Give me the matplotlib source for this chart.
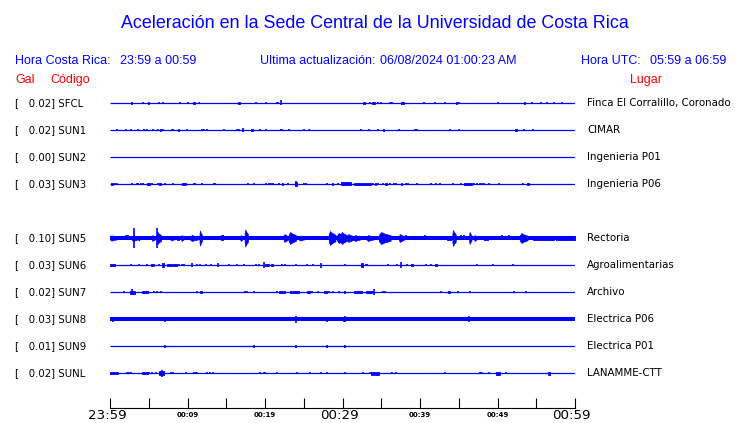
import matplotlib
matplotlib.use("Agg")
import matplotlib.pyplot as plt
from matplotlib.transforms import blended_transform_factory

# ---------------- data ----------------
stations = ["SFCL", "SUN1", "SUN2", "SUN3", "SUN5", "SUN6", "SUN7", "SUN8", "SUN9", "SUNL"]
gal = [0.02, 0.02, 0.00, 0.03, 0.10, 0.03, 0.02, 0.03, 0.01, 0.02]
places = ["Finca El Corralillo, Coronado", "CIMAR", "Ingenieria P01", "Ingenieria P06",
          "Rectoria", "Agroalimentarias", "Archivo", "Electrica P06", "Electrica P01",
          "LANAMME-CTT"]
rows = [0, 1, 2, 3, 5, 6, 7, 8, 9, 10]
# continuous background amplitude of each trace (relative units)
base_amp = [0, 0, 0, 0, 1.7, 0, 0, 1.6, 0, 0]

# events: (start minute, end minute, half amplitude) - minutes after 23:59
sfcl_ev = [(2.68, 2.78, 1.0), (4.27, 4.27, 1.3), (4.95, 5.05, 1.0), (6.37, 6.37, 1.3),
           (6.89, 6.89, 1.3), (9.09, 9.09, 1.3), (10.12, 10.12, 0.8), (10.72, 10.92, 1.3),
           (11.42, 11.42, 1.0), (16.55, 16.72, 1.3), (18.79, 18.79, 0.7), (20.13, 20.13, 0.7),
           (21.50, 21.50, 1.3), (21.72, 21.72, 1.0), (22.02, 22.02, 2.5), (32.68, 32.88, 1.0),
           (33.49, 33.49, 1.3), (33.75, 34.18, 1.3), (34.62, 34.62, 1.3), (34.91, 34.91, 1.3),
           (36.12, 36.12, 1.3), (36.43, 36.43, 1.0), (37.54, 37.93, 1.3), (40.51, 40.51, 0.7),
           (41.93, 41.93, 1.0), (43.23, 43.23, 1.3), (44.62, 44.78, 1.3), (45.00, 45.00, 1.0),
           (50.08, 50.08, 0.7), (53.42, 53.56, 1.3), (54.48, 54.48, 1.3), (55.60, 55.60, 1.3),
           (56.34, 56.34, 1.0), (57.32, 57.32, 1.3), (58.36, 58.36, 1.3)]

sun1_ev = [(0.87, 0.87, 1.3), (2.03, 2.03, 1.3), (2.68, 2.68, 0.8), (3.66, 3.66, 1.3),
           (4.44, 4.44, 1.3), (4.74, 4.74, 1.3), (5.52, 5.52, 1.3), (6.16, 6.16, 0.8),
           (6.40, 6.55, 1.3), (6.89, 6.89, 1.3), (7.97, 7.97, 1.3), (8.19, 8.19, 1.3),
           (8.72, 8.86, 1.3), (9.91, 9.91, 1.3), (11.85, 11.85, 1.3), (12.07, 12.07, 1.3),
           (12.58, 12.58, 1.3), (14.65, 14.65, 0.7), (16.38, 16.38, 1.3), (16.59, 16.59, 1.3),
           (17.11, 17.11, 2.0), (18.25, 18.40, 1.3), (19.31, 19.31, 1.3), (20.13, 20.13, 0.7),
           (22.02, 22.02, 1.3), (22.24, 22.24, 1.3), (23.06, 23.06, 1.3), (25.04, 25.04, 1.3),
           (25.64, 25.64, 1.3), (32.42, 32.42, 0.7), (33.45, 33.45, 0.7), (34.57, 34.57, 1.3),
           (35.22, 35.38, 1.3), (37.28, 37.28, 0.8), (39.31, 39.31, 1.3), (39.61, 39.61, 1.3),
           (43.87, 43.87, 1.3), (45.04, 45.04, 1.3), (52.25, 52.50, 1.3), (53.44, 53.44, 1.3),
           (54.61, 54.61, 1.3)]

sun2_ev = []

sun3_ev = [(0.13, 0.43, 1.3), (0.65, 0.65, 1.3), (0.95, 0.95, 1.3), (2.80, 2.80, 1.3),
           (3.45, 3.45, 1.3), (3.66, 3.66, 1.0), (3.96, 3.96, 1.0), (4.22, 4.22, 1.3),
           (4.83, 5.12, 1.1), (5.39, 5.39, 1.3), (6.16, 6.16, 0.8), (6.37, 6.57, 1.3),
           (7.11, 7.11, 1.0), (8.10, 8.10, 1.3), (9.35, 9.83, 1.3), (10.78, 10.78, 1.3),
           (10.99, 10.99, 1.3), (11.85, 11.85, 1.0), (13.36, 13.36, 1.3), (13.58, 13.58, 1.3),
           (17.76, 17.76, 1.3), (18.53, 18.53, 1.0), (20.17, 20.17, 1.3), (20.47, 20.47, 1.3),
           (20.73, 20.73, 1.3), (21.04, 21.04, 1.3), (21.85, 21.85, 0.8), (22.18, 22.38, 1.3),
           (22.97, 22.97, 1.3), (24.01, 24.01, 2.6), (23.90, 24.12, 1.7), (25.04, 25.04, 1.3),
           (25.34, 25.34, 1.0), (28.02, 28.02, 1.3), (28.62, 28.80, 1.3), (29.39, 29.39, 1.3),
           (29.87, 31.12, 1.5), (31.46, 32.24, 1.3), (32.42, 32.76, 1.3), (32.88, 33.70, 1.4),
           (33.92, 33.92, 1.3), (34.20, 34.32, 1.3), (34.62, 34.62, 1.3), (35.26, 35.26, 1.0),
           (35.52, 35.70, 1.3), (36.12, 36.12, 1.3), (36.64, 36.64, 1.0), (36.94, 36.94, 1.0),
           (37.54, 37.66, 1.3), (38.23, 38.23, 1.3), (38.45, 38.45, 1.3), (39.65, 39.65, 1.3),
           (41.47, 41.47, 1.3), (42.11, 42.11, 1.0), (42.58, 42.58, 1.3), (44.31, 44.31, 1.3),
           (45.35, 45.35, 1.3), (45.69, 46.71, 1.4), (46.98, 46.98, 1.0), (47.32, 47.32, 1.0),
           (47.75, 47.75, 1.3), (48.06, 48.06, 1.3), (48.28, 48.28, 1.3), (48.84, 48.84, 1.0),
           (50.21, 50.21, 1.3), (53.32, 53.32, 1.0), (53.82, 54.02, 1.3)]

sun5_ev = [(0.00, 0.95, 2.7), (2.03, 2.03, 2.5), (2.28, 2.28, 2.5), (2.80, 3.66, 3.0),
           (3.14, 3.14, 10.0), (3.66, 3.88, 2.5), (5.39, 5.82, 3.0), (6.03, 6.59, 6.0),
           (6.12, 6.12, 10.0), (7.76, 8.40, 2.5), (8.62, 8.84, 2.0), (9.18, 9.53, 3.0),
           (10.34, 11.42, 3.0), (11.55, 11.85, 7.5), (14.00, 14.00, 2.0), (14.35, 14.52, 2.5),
           (14.87, 14.87, 2.0), (15.95, 15.95, 2.0), (16.81, 17.11, 3.0), (17.37, 17.80, 8.5),
           (20.69, 20.69, 2.0), (21.55, 21.55, 2.0), (22.41, 22.97, 4.0), (23.06, 24.01, 6.0),
           (24.35, 25.22, 2.5), (26.42, 26.42, 2.0), (28.23, 29.09, 7.0), (29.30, 30.39, 5.0),
           (29.74, 30.60, 6.0), (30.60, 31.46, 4.0), (31.46, 32.33, 3.0), (33.10, 34.05, 3.0),
           (34.70, 36.21, 6.0), (37.28, 37.93, 4.0), (38.15, 38.15, 2.5), (40.65, 40.65, 2.5),
           (43.53, 43.97, 2.0), (44.18, 44.61, 8.0), (45.26, 45.26, 2.5), (45.69, 45.69, 2.5),
           (46.34, 46.64, 6.0), (46.98, 47.33, 3.0), (48.28, 48.71, 2.3), (50.64, 50.64, 2.5),
           (51.51, 51.51, 2.5), (52.89, 53.88, 5.0), (54.52, 57.33, 2.2), (57.54, 60.00, 2.2)]

sun6_ev = [(0.00, 0.65, 1.5), (2.67, 2.67, 1.3), (3.79, 3.79, 1.0), (4.83, 4.83, 1.0),
           (5.30, 5.69, 1.3), (6.37, 6.37, 1.0), (6.77, 6.98, 2.0), (7.37, 7.97, 1.3),
           (8.19, 8.62, 1.3), (8.92, 8.92, 1.3), (9.35, 9.35, 1.3), (9.61, 9.61, 1.3),
           (10.56, 10.56, 2.0), (11.20, 11.20, 1.0), (11.55, 11.55, 1.3), (12.37, 12.37, 1.3),
           (13.02, 13.02, 1.3), (13.88, 13.88, 2.0), (15.39, 15.39, 1.3), (16.38, 16.38, 1.3),
           (17.24, 17.24, 1.3), (18.83, 18.83, 1.3), (19.27, 19.27, 1.3), (19.91, 19.91, 3.0),
           (20.04, 20.47, 1.3), (20.80, 21.02, 1.3), (22.20, 22.20, 1.0), (22.63, 22.63, 1.0),
           (24.01, 24.01, 1.0), (25.47, 25.47, 1.0), (26.20, 26.20, 1.0), (27.28, 27.28, 2.5),
           (30.28, 30.28, 1.3), (32.33, 32.67, 2.0), (32.97, 32.97, 1.3), (33.19, 33.19, 1.3),
           (35.90, 35.90, 1.3), (37.06, 37.06, 1.0), (37.50, 37.50, 3.0), (38.36, 38.36, 1.0),
           (38.90, 39.10, 1.3), (40.73, 40.73, 1.0), (41.38, 41.38, 1.0), (41.90, 42.24, 1.3),
           (47.37, 47.37, 1.3), (49.40, 49.40, 1.3), (52.00, 52.00, 0.7)]

sun7_ev = [(1.81, 1.81, 0.7), (2.59, 3.23, 1.5), (2.80, 2.80, 3.0), (4.09, 4.87, 1.3),
           (5.69, 5.69, 1.0), (6.12, 6.12, 0.8), (6.55, 6.55, 0.8), (11.20, 11.20, 1.0),
           (11.64, 11.85, 1.3), (17.37, 17.37, 1.0), (17.67, 17.67, 0.7), (18.53, 18.53, 0.7),
           (21.55, 21.55, 0.7), (21.77, 22.63, 1.3), (23.19, 24.44, 1.3), (25.43, 25.86, 1.3),
           (26.08, 26.08, 1.0), (26.85, 26.85, 1.3), (27.58, 28.01, 1.3), (28.23, 28.23, 1.0),
           (28.79, 28.79, 1.3), (29.52, 29.52, 0.7), (30.17, 30.30, 1.3), (31.46, 32.53, 1.3),
           (32.97, 33.84, 1.3), (34.05, 34.05, 3.0), (35.25, 35.25, 1.0), (35.47, 35.47, 1.3),
           (42.67, 42.67, 0.8), (43.65, 43.85, 1.3), (44.91, 44.91, 1.3), (46.46, 46.46, 0.8),
           (52.16, 52.16, 1.0), (53.71, 53.71, 0.7)]

sun8_ev = [(0.43, 0.43, 2.5), (6.37, 6.37, 2.0), (7.11, 7.11, 2.5), (24.05, 24.05, 3.5),
           (28.02, 28.02, 2.5), (30.30, 30.30, 3.0), (30.17, 30.17, 2.5), (31.68, 31.68, 2.0),
           (33.06, 33.06, 2.0), (39.74, 39.74, 2.0), (46.34, 46.34, 3.0)]

sun9_ev = [(7.11, 7.11, 1.5), (18.53, 18.53, 1.5), (24.05, 24.05, 1.5), (28.02, 28.02, 1.5),
           (30.30, 30.30, 1.5)]

sunl_ev = [(0.00, 0.99, 1.3), (2.15, 2.15, 1.3), (2.46, 2.46, 1.3), (2.67, 2.67, 1.3),
           (4.09, 4.87, 1.3), (5.09, 5.09, 1.3), (5.48, 5.48, 1.3), (5.91, 5.91, 0.8),
           (6.37, 7.02, 1.8), (6.77, 6.77, 3.5), (7.84, 7.84, 1.3), (8.10, 8.10, 1.3),
           (9.83, 9.83, 1.3), (10.78, 10.78, 1.3), (10.99, 10.99, 1.3), (11.29, 11.29, 1.3),
           (12.58, 12.58, 1.3), (12.84, 12.84, 1.3), (13.23, 13.23, 1.3), (19.31, 19.31, 0.8),
           (19.83, 19.83, 1.0), (20.04, 20.04, 0.8), (21.55, 21.55, 1.3), (24.14, 24.14, 1.3),
           (25.86, 25.86, 0.8), (27.24, 27.24, 0.8), (28.02, 28.02, 1.3), (30.30, 30.30, 1.0),
           (32.63, 32.63, 0.7), (33.49, 33.49, 1.3), (33.62, 34.05, 1.5), (34.20, 34.70, 1.5),
           (36.34, 36.34, 1.3), (36.85, 36.85, 1.0), (43.23, 43.23, 0.7), (47.75, 47.75, 1.0),
           (48.06, 48.06, 1.3), (48.84, 48.84, 1.3), (49.78, 50.30, 1.5), (51.08, 51.08, 1.3),
           (56.46, 56.80, 1.5)]

events = [sfcl_ev, sun1_ev, sun2_ev, sun3_ev, sun5_ev, sun6_ev, sun7_ev, sun8_ev, sun9_ev, sunl_ev]

time_ticks = list(range(0, 61, 5))
big_labels = {0: "23:59", 30: "00:29", 60: "00:59"}
small_labels = {10: "00:09", 20: "00:19", 40: "00:39", 50: "00:49"}

title = "Aceleración en la Sede Central de la Universidad de Costa Rica"
update = "06/08/2024 01:00:23 AM"

# ---------------- figure ----------------
W, H = 740, 423
fig = plt.figure(figsize=(W / 100, H / 100), dpi=100)
fig.patch.set_facecolor("white")

BLUE = "#0000ff"
RED = "#ff0000"
ROWPX = 27.0
AMP = 1.0 / ROWPX  # amplitude units -> rows

def fx(px):
    return px / W

def fy(py):
    return 1 - py / H

x0, x1 = 110, 575
top_px, bot_px = 103 - ROWPX / 2, 373 + ROWPX / 2
ax = fig.add_axes([fx(x0), fy(bot_px), (x1 - x0) / W, (bot_px - top_px) / H])
ax.set_xlim(0, 60)
ax.set_ylim(10.5, -0.5)
ax.axis("off")

for r, base, ev in zip(rows, base_amp, events):
    ax.plot([0, 60], [r, r], color=BLUE, lw=0.9, solid_capstyle="butt")
    if base > 0:
        ax.fill_between([0, 60], r - base * AMP, r + base * AMP, color=BLUE, lw=0)
    for t0, t1, a in ev:
        d = t1 - t0
        if d < 0.08:
            ax.vlines(t0, r - a * AMP, r + a * AMP, color=BLUE, lw=1.2)
        elif a >= 2.5 and d >= 0.2:
            # burst envelope: quick rise, slower decay
            ts = [t0, t0 + 0.2 * d, t0 + 0.45 * d, t0 + 0.75 * d, t1]
            env = [0.55 * a, a, 0.75 * a, 0.6 * a, 0.45 * a]
            lo = [r - e * AMP for e in env]
            hi = [r + e * AMP for e in env]
            ax.fill_between(ts, lo, hi, color=BLUE, lw=0.5, edgecolor=BLUE)
        else:
            ax.fill_between([t0, t1], r - a * AMP, r + a * AMP, color=BLUE,
                            lw=0.6, edgecolor=BLUE)

# time axis
axt = fig.add_axes([fx(x0), fy(408), (x1 - x0) / W, 10 / H])
axt.set_xlim(0, 60)
axt.set_ylim(0, 1)
for s in ["top", "left", "right"]:
    axt.spines[s].set_visible(False)
axt.spines["bottom"].set_linewidth(0.8)
axt.set_yticks([])
axt.set_xticks(time_ticks)
axt.set_xticklabels([])
axt.tick_params(axis="x", direction="in", length=7.2, width=0.8, color="black")
axt.patch.set_alpha(0)
tr = blended_transform_factory(axt.transData, axt.transAxes)
for t, lab in big_labels.items():
    axt.text(t - 0.4, -0.75, lab, transform=tr, ha="center", va="center",
             fontsize=9.6, family="DejaVu Sans", color="black")
for t, lab in small_labels.items():
    axt.text(t, -0.7, lab, transform=tr, ha="center", va="center",
             fontsize=5, family="DejaVu Sans", color="black", fontweight="bold")

# texts
SANS = "Liberation Sans"
fig.text(fx(375), fy(23), title, ha="center", va="center", color=BLUE,
         fontsize=12.9, family=SANS)
fig.text(fx(15), fy(61), "Hora Costa Rica:", ha="left", va="center", color=BLUE,
         fontsize=9, family=SANS)
fig.text(fx(120), fy(61), "23:59 a 00:59", ha="left", va="center", color=BLUE,
         fontsize=9, family=SANS)
fig.text(fx(260), fy(61), "Ultima actualización:", ha="left", va="center", color=BLUE,
         fontsize=9, family=SANS)
fig.text(fx(380), fy(61), update, ha="left", va="center", color=BLUE,
         fontsize=9, family=SANS)
fig.text(fx(581), fy(61), "Hora UTC:", ha="left", va="center", color=BLUE,
         fontsize=9, family=SANS)
fig.text(fx(650), fy(61), "05:59 a 06:59", ha="left", va="center", color=BLUE,
         fontsize=9, family=SANS)
fig.text(fx(15), fy(80), "Gal", ha="left", va="center", color=RED, fontsize=9, family=SANS)
fig.text(fx(50), fy(80), "Código", ha="left", va="center", color=RED, fontsize=9, family=SANS)
fig.text(fx(630), fy(80), "Lugar", ha="left", va="center", color=RED, fontsize=9, family=SANS)

for r, st, g, pl in zip(rows, stations, gal, places):
    ypx = 103 + r * ROWPX
    fig.text(fx(15), fy(ypx), "[   %.2f] %s" % (g, st), ha="left", va="center",
             color="black", fontsize=7.3, family="DejaVu Sans")
    fig.text(fx(587), fy(ypx), pl, ha="left", va="center", color="black",
             fontsize=7.4, family="DejaVu Sans")

fig.savefig("out.png", dpi=100, facecolor="white")
